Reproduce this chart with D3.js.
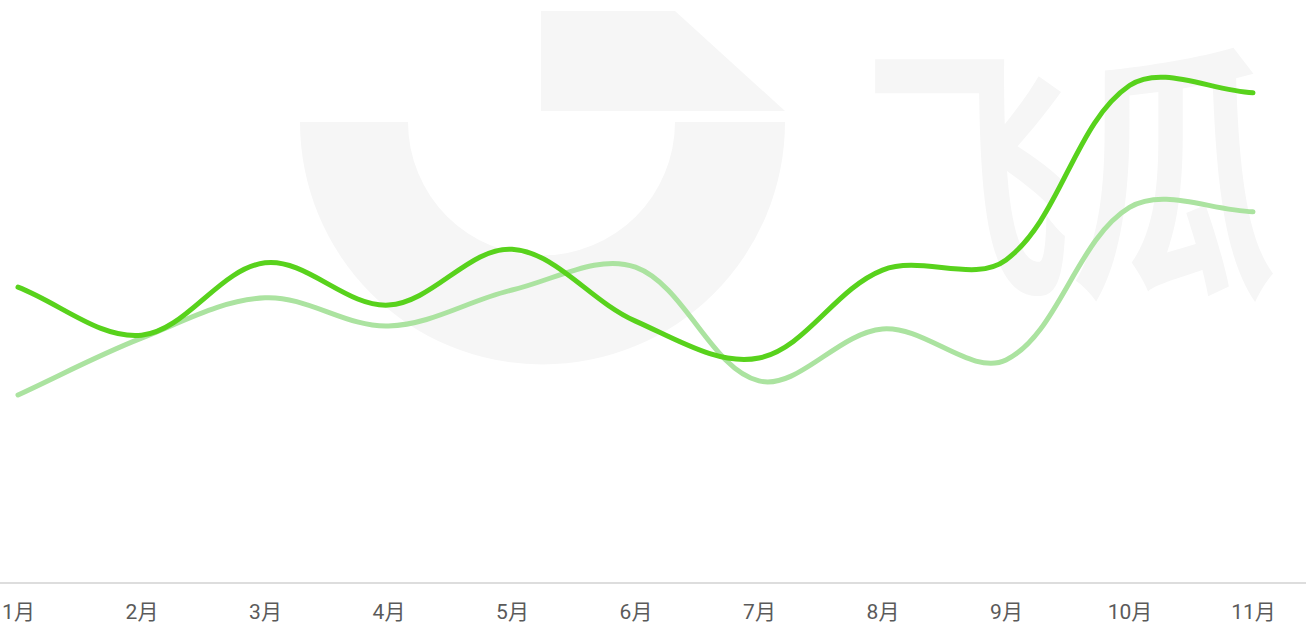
<!DOCTYPE html>
<html><head><meta charset="utf-8">
<script src="https://cdn.jsdelivr.net/npm/d3@7"></script>
<style>html,body{margin:0;padding:0;background:#fff;overflow:hidden}</style>
</head><body>
<svg id="chart" width="1306" height="626"></svg>
<script>
const months = ["1月","2月","3月","4月","5月","6月","7月","8月","9月","10月","11月"];
const seriesA = [60.9, 51.0, 65.9, 57.2, 68.7, 53.9, 46.3, 64.4, 66.5, 102.4, 100.9];
const seriesB = [38.7, 50.4, 58.7, 52.9, 60.3, 65.0, 41.6, 52.3, 45.9, 77.3, 76.4];
const yDomain = [0, 120];

const W = 1306, H = 626;
const svg = d3.select("#chart");

// watermark (background decoration)
const wm = svg.append("g").attr("fill", "#f6f6f6");
wm.append("path").attr("d", "M300,122 A242.5,242.5 0 0 0 785,122 L675,122 A133.5,133.5 0 0 1 408,122 Z");
wm.append("path").attr("d", "M541,11 L675,11 L785,111 L541,111 Z");
wm.append("text").attr("transform", "translate(864,277) scale(0.76,1)")
  .attr("font-family", "'Noto Sans CJK SC'").attr("font-weight", 700)
  .attr("font-size", 272).text("飞瓜");

const x = d3.scalePoint().domain(months).range([18, 1253]);
const y = d3.scaleLinear().domain(yDomain).range([583, 0]);

// axis
const axis = d3.axisBottom(x).tickSize(0).tickPadding(21);
const ag = svg.append("g").attr("transform", "translate(0,583)").call(axis);
ag.select(".domain").remove();
ag.append("line").attr("x1", 0).attr("x2", W).attr("stroke", "#dddddd").attr("stroke-width", 2);
ag.selectAll(".tick text").attr("fill", "#5a5a5a").attr("font-size", 21)
  .attr("font-family", "Roboto, 'Noto Sans CJK SC', sans-serif");

// ECharts-like smooth bezier curve
function smoothCurve(smooth) {
  return function(ctx) {
    let pts = [];
    return {
      areaStart(){}, areaEnd(){},
      lineStart(){ pts = []; },
      point(px, py){ pts.push([px, py]); },
      lineEnd(){
        const n = pts.length;
        if (!n) return;
        const cps = pts.map((p, i) => {
          const prev = pts[Math.max(0, i - 1)], next = pts[Math.min(n - 1, i + 1)];
          const vx = (next[0] - prev[0]) * smooth, vy = (next[1] - prev[1]) * smooth;
          const d0 = Math.hypot(p[0] - prev[0], p[1] - prev[1]);
          const d1 = Math.hypot(next[0] - p[0], next[1] - p[1]);
          const s = d0 + d1 || 1;
          return [[p[0] - vx * d0 / s, p[1] - vy * d0 / s], [p[0] + vx * d1 / s, p[1] + vy * d1 / s]];
        });
        ctx.moveTo(pts[0][0], pts[0][1]);
        for (let i = 1; i < n; i++) {
          const c1 = cps[i - 1][1], c2 = cps[i][0];
          ctx.bezierCurveTo(c1[0], c1[1], c2[0], c2[1], pts[i][0], pts[i][1]);
        }
      }
    };
  };
}

const line = d3.line().x((d, i) => x(months[i])).y(d => y(d)).curve(smoothCurve(0.35));

svg.append("path").datum(seriesB).attr("d", line).attr("fill", "none")
  .attr("stroke", "#abe3a0").attr("stroke-width", 5).attr("stroke-linecap", "round").attr("stroke-linejoin", "round");
svg.append("path").datum(seriesA).attr("d", line).attr("fill", "none")
  .attr("stroke", "#58d21c").attr("stroke-width", 5).attr("stroke-linecap", "round").attr("stroke-linejoin", "round");
</script>
</body></html>
